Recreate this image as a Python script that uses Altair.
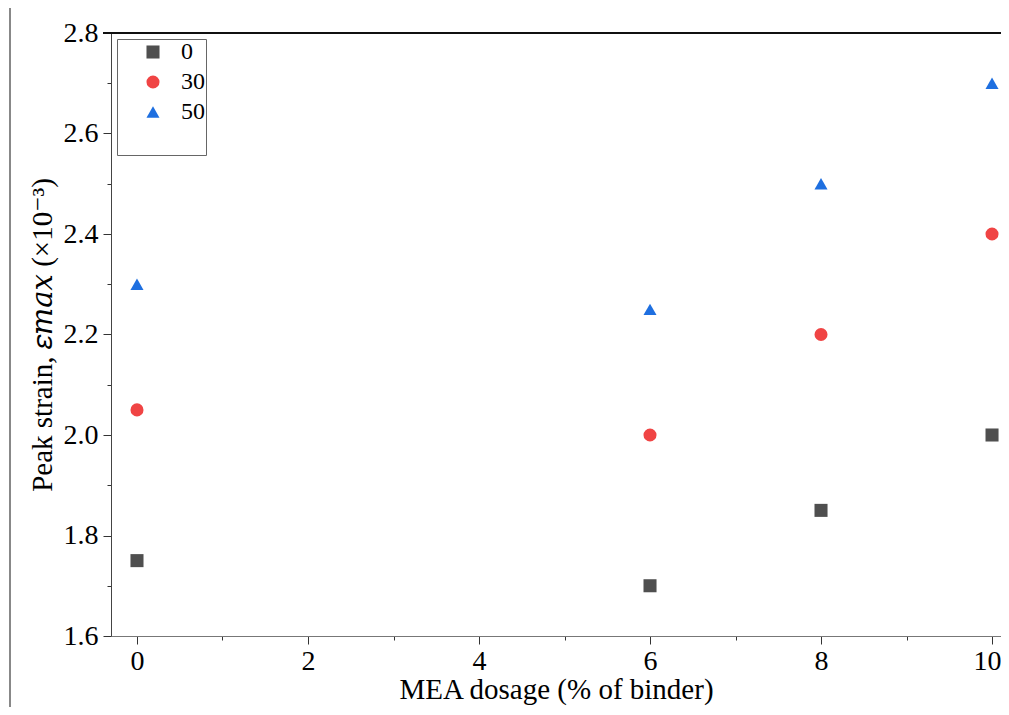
import altair as alt
import pandas as pd

dosage = [0, 6, 8, 10]
strain_0 = [1.75, 1.70, 1.85, 2.00]
strain_30 = [2.05, 2.00, 2.20, 2.40]
strain_50 = [2.30, 2.25, 2.50, 2.70]
series = ["0", "30", "50"]
colors = ["#4f4f4f", "#f04444", "#1e6fe0"]
shapes = ["square", "circle", "triangle-up"]
sizes = [170, 170, 330]
x_ticks = [0, 1, 2, 3, 4, 5, 6, 7, 8, 9, 10]
y_ticks = [1.6, 1.7, 1.8, 1.9, 2.0, 2.1, 2.2, 2.3, 2.4, 2.5, 2.6, 2.7, 2.8]

rows = []
for name, vals in zip(series, [strain_0, strain_30, strain_50]):
    for d, v in zip(dosage, vals):
        rows.append({"dosage": d, "strain": v, "series": name})
df = pd.DataFrame(rows)

# blank legend row so the legend box keeps its empty bottom line
leg_domain = series + [" "]
leg_colors = colors + ["rgba(255,255,255,0)"]
leg_shapes = shapes + ["square"]
leg_sizes = sizes + [170]

W, H = 890, 603
FONT = "'Liberation Serif', 'Times New Roman', 'DejaVu Serif', serif"

xscale = alt.Scale(domain=[-0.304, 10.105], nice=False, zero=False)
yscale = alt.Scale(domain=[1.6, 2.8], nice=False, zero=False)

points = alt.Chart(df).mark_point(filled=True, opacity=1).encode(
    x=alt.X("dosage:Q", scale=xscale,
            axis=alt.Axis(title="MEA dosage (% of binder)", values=x_ticks,
                          labelExpr="datum.value % 2 == 0 ? datum.label : ''",
                          tickSize={"condition": {"test": "datum.value % 2 == 0", "value": 8}, "value": 4},
                          labelOffset={"condition": {"test": "datum.value == 10", "value": -5}, "value": 0},
                          labelPadding=3, titlePadding=0, labelOverlap=False,
                          domainColor="#777777", tickColor="#333333", grid=False)),
    y=alt.Y("strain:Q", scale=yscale,
            axis=alt.Axis(title="Peak strain, 𝜀𝑚𝑎𝑥 (×10⁻³)", values=y_ticks, format=".1f",
                          labelExpr="round(datum.value*10) % 2 == 0 ? datum.label : ''",
                          tickSize={"condition": {"test": "round(datum.value*10) % 2 == 0", "value": 8}, "value": 4},
                          labelPadding=5, titlePadding=6, labelOverlap=False,
                          domainColor="#444444", tickColor="#333333", grid=False)),
    color=alt.Color("series:N", scale=alt.Scale(domain=leg_domain, range=leg_colors),
                    legend=alt.Legend(title=None, orient="none", legendX=6, legendY=6,
                                      padding=1, rowPadding=6, symbolSize=160,
                                      labelFontSize=24, labelFont=FONT, strokeColor="#666666",
                                      fillColor="white", labelOffset=16, symbolOffset=23)),
    shape=alt.Shape("series:N", scale=alt.Scale(domain=leg_domain, range=leg_shapes), legend=None),
    size=alt.Size("series:N", scale=alt.Scale(domain=leg_domain, range=leg_sizes), legend=None),
)

top_line = alt.Chart(df).mark_rule(color="#111111", strokeWidth=1.5).encode(
    x=alt.value(-8), x2=alt.value(W), y=alt.value(0)
)
left_line = alt.Chart(df).mark_rule(color="#888888", strokeWidth=1.5).encode(
    x=alt.value(-101), y=alt.value(-33), y2=alt.value(700)
)

chart = alt.layer(points, top_line, left_line).properties(
    width=W, height=H,
    autosize=alt.AutoSizeParams(type="none"),
    padding={"left": 103, "top": 25, "right": 0, "bottom": 71},
).configure_view(stroke=None).configure_axis(
    labelFont=FONT, titleFont=FONT, labelFontSize=28, titleFontSize=29,
    titleFontWeight="normal", labelColor="black", titleColor="black"
).configure_legend(symbolStrokeWidth=0)

chart.save("out.html", embed_options={"renderer": "svg", "actions": False})
